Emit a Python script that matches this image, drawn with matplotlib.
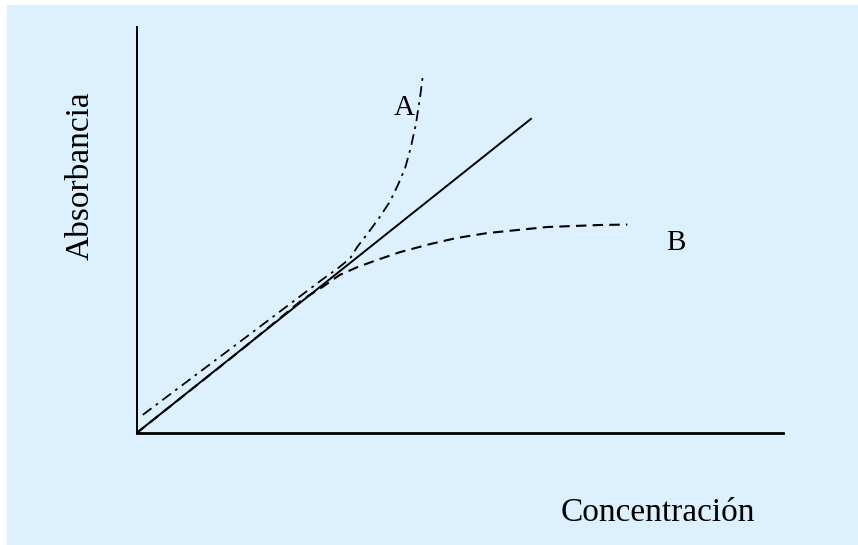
import matplotlib.pyplot as plt

# concentration / absorbance in arbitrary units (axes span 0..10)
conc_lin = [0.0, 6.11]
abs_lin = [0.0, 7.75]

conc_a = [0.09, 1.75, 2.88, 3.10, 3.30, 3.41, 3.58, 3.76, 3.92, 4.04, 4.15, 4.24, 4.32, 4.38, 4.43]
abs_a = [0.44, 2.43, 3.79, 4.04, 4.30, 4.58, 4.93, 5.32, 5.71, 6.11, 6.52, 7.04, 7.63, 8.25, 8.86]

conc_b = [0.0, 1.59, 2.57, 2.86, 3.14, 3.41, 3.72, 4.07, 4.54, 4.95, 5.42, 6.35, 7.17, 7.59]
abs_b = [0.0, 2.01, 3.29, 3.58, 3.89, 4.08, 4.26, 4.45, 4.65, 4.80, 4.92, 5.07, 5.12, 5.13]

bg = "#dcf0fe"
W, H = 858, 545

plt.rcParams["font.family"] = ["Liberation Serif", "DejaVu Serif"]

fig = plt.figure(figsize=(W / 100, H / 100), dpi=100)
fig.patch.set_facecolor(bg)
# thin white margin top and left, as in the original slide
fig.add_artist(plt.Rectangle((0, 1 - 5 / H), 1, 5 / H, transform=fig.transFigure,
                             facecolor="white", edgecolor="none"))
fig.add_artist(plt.Rectangle((0, 0), 7 / W, 1, transform=fig.transFigure,
                             facecolor="white", edgecolor="none"))

x0, x1 = 137, 783
y0, y1 = 432.7, 27
ax = fig.add_axes([x0 / W, (H - y0) / H, (x1 - x0) / W, (y0 - y1) / H])
ax.set_facecolor("none")
ax.set_xlim(0, 10)
ax.set_ylim(0, 10)
for s in ["top", "right"]:
    ax.spines[s].set_visible(False)
ax.spines["left"].set_linewidth(1.4)
ax.spines["bottom"].set_linewidth(2.0)
ax.set_xticks([])
ax.set_yticks([])

ax.plot(conc_lin, abs_lin, color="black", lw=1.4, solid_capstyle="butt")
ax.plot(conc_a, abs_a, color="black", lw=1.3, dashes=(6, 3, 1.5, 3))
ax.plot(conc_b, abs_b, color="black", lw=1.5, dashes=(5, 3))

ax.text(4.13, 8.0, "A", fontsize=21, ha="center", va="center")
ax.text(8.34, 4.68, "B", fontsize=21, ha="center", va="center")

fig.text(80 / W, 1 - 176 / H, "Absorbancia", fontsize=24, rotation=90,
         ha="center", va="center")
fig.text(658 / W, 1 - 513 / H, "Concentración", fontsize=24,
         ha="center", va="center")

fig.savefig("out.png", dpi=100, facecolor=fig.get_facecolor())
